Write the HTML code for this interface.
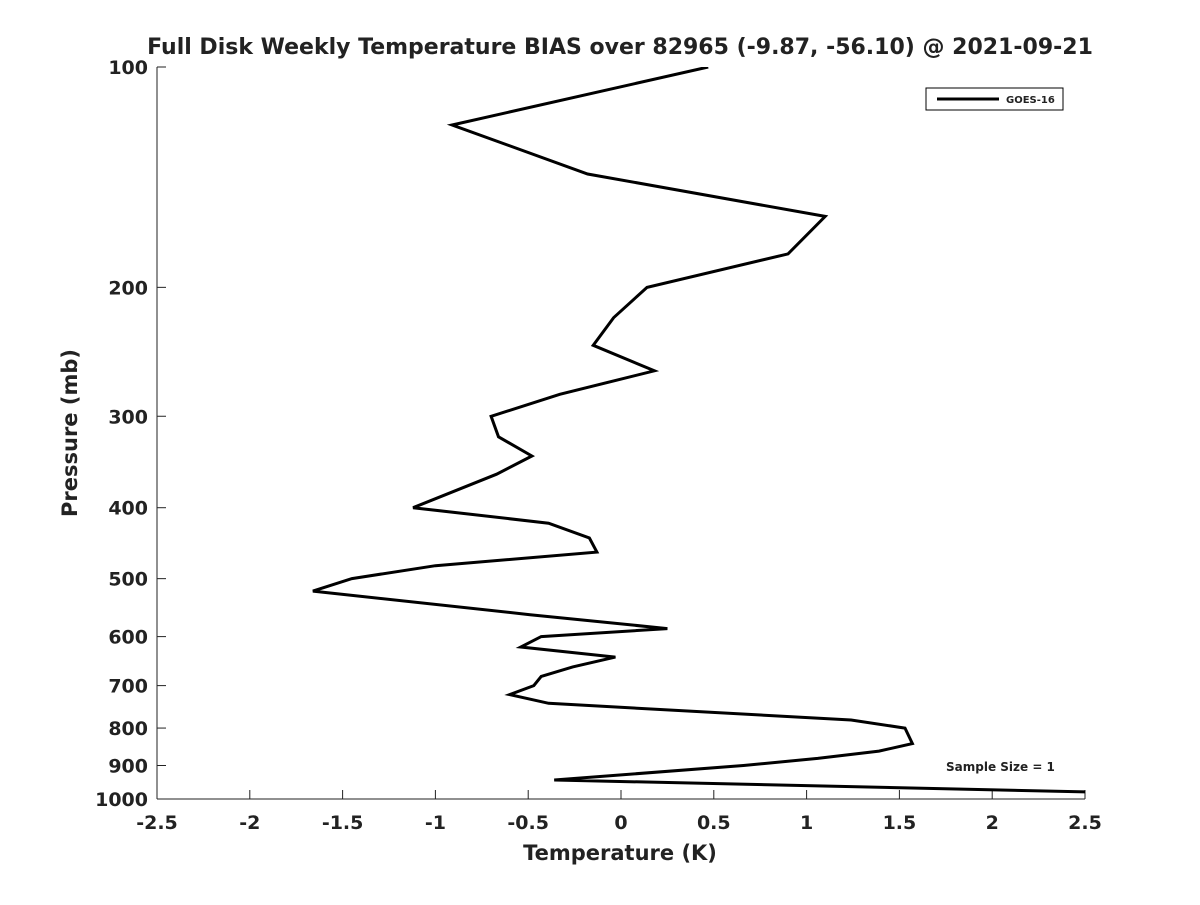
<!DOCTYPE html>
<html><head><meta charset="utf-8"><style>
body{margin:0;background:#fff;font-family:"Liberation Sans","DejaVu Sans",sans-serif}
svg text{font-family:"DejaVu Sans","Liberation Sans",sans-serif;font-weight:bold;fill:#222}
</style></head><body>
<svg id="c" width="1200" height="900">
<defs><clipPath id="clip"><rect x="157" y="67" width="928" height="732"/></clipPath></defs>
<text x="620" y="54" font-size="22" text-anchor="middle" fill="#000">Full Disk Weekly Temperature BIAS over 82965 (-9.87, -56.10) @ 2021-09-21</text>
<g id="axes"></g>
<g id="series" clip-path="url(#clip)"></g>
<g>
<rect x="926" y="88" width="137" height="22" fill="#fff" stroke="#000" stroke-width="1"/>
<line x1="937" y1="99" x2="999" y2="99" stroke="#000" stroke-width="3"/>
<text x="1006" y="103" font-size="10">GOES-16</text>
</g>
<text x="946" y="771" font-size="12">Sample Size = 1</text>
<text x="620" y="860" font-size="21" text-anchor="middle">Temperature (K)</text>
<text transform="translate(77,433) rotate(-90)" font-size="21" text-anchor="middle">Pressure (mb)</text>
</svg>
<script>
const xTicks=[-2.5,-2,-1.5,-1,-0.5,0,0.5,1,1.5,2,2.5];
const xTickLabels=["-2.5","-2","-1.5","-1","-0.5","0","0.5","1","1.5","2","2.5"];
const yTicks=[100,200,300,400,500,600,700,800,900,1000];
const temps=[0.47,-0.91,-0.18,1.10,0.90,0.14,-0.04,-0.15,0.18,-0.33,-0.70,-0.66,-0.48,-0.67,-1.12,-0.39,-0.17,-0.13,-1.0,-1.45,-1.66,-0.49,0.25,-0.43,-0.54,-0.03,-0.26,-0.43,-0.47,-0.60,-0.39,1.24,1.53,1.57,1.39,1.06,0.66,-0.36,2.5];
const pressures=[100,120,140,160,180,200,220,240,260,280,300,320,340,360,400,420,440,460,480,500,520,560,585,600,620,640,660,680,700,720,740,780,800,840,860,880,900,942,978];
const X0=157,X1=1085,Y0=67,Y1=799;
const xs=v=>X0+(v+2.5)/5*(X1-X0);
const ys=p=>Y0+Math.log10(p/100)*(Y1-Y0);
const NS="http://www.w3.org/2000/svg";
const ax=document.getElementById('axes');
function mk(t,a,parent){const e=document.createElementNS(NS,t);for(const k in a)e.setAttribute(k,a[k]);parent.appendChild(e);return e;}
let l=mk('line',{x1:X0,y1:Y0,x2:X0,y2:Y1,stroke:'#222','stroke-width':1},ax);


l=mk('line',{x1:X0,y1:Y1,x2:X1,y2:Y1,stroke:'#222','stroke-width':1},ax);


xTicks.forEach((v,i)=>{
 const x=xs(v);
 const t=mk('line',{x1:x,y1:Y1,x2:x,y2:Y1-9,stroke:'#222'},ax);
 
 
 const tx=mk('text',{x:x,y:Y1+30,'font-size':19,'text-anchor':'middle'},ax);
 tx.textContent=xTickLabels[i];
 
 
});
yTicks.forEach(p=>{
 const y=ys(p);
 const t=mk('line',{x1:X0,y1:y,x2:X0+9,y2:y,stroke:'#222'},ax);
 
 
 const tx=mk('text',{x:X0-9,y:y+7,'font-size':19,'text-anchor':'end'},ax);
 tx.textContent=String(p);
 
 
});
const pts=temps.map((t,i)=>xs(t).toFixed(1)+','+ys(pressures[i]).toFixed(1)).join(' ');
const pl=mk('polyline',{points:pts,fill:'none',stroke:'#000','stroke-width':3,'stroke-linejoin':'miter'},document.getElementById('series'));


</script>
</body></html>
